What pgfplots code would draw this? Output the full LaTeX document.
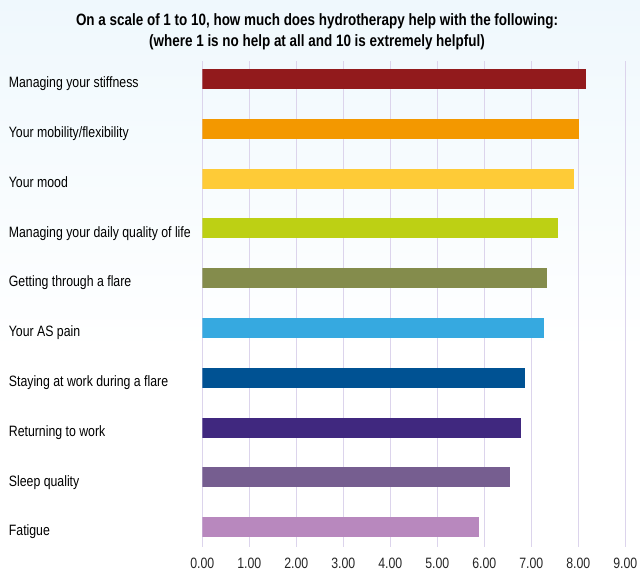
\documentclass[border=0pt]{standalone}
\usepackage{fontspec}
\setmainfont{Liberation Sans}[FakeStretch=0.82]
\usepackage{pgfplots}
\pgfplotsset{compat=1.18}

\definecolor{bgblue}{RGB}{239,248,253}
\definecolor{gridc}{RGB}{220,212,236}
\definecolor{c1}{RGB}{146,26,28}
\definecolor{c2}{RGB}{243,152,0}
\definecolor{c3}{RGB}{254,203,55}
\definecolor{c4}{RGB}{189,208,20}
\definecolor{c5}{RGB}{132,140,76}
\definecolor{c6}{RGB}{54,169,224}
\definecolor{c7}{RGB}{0,82,147}
\definecolor{c8}{RGB}{64,40,127}
\definecolor{c9}{RGB}{118,94,144}
\definecolor{c10}{RGB}{184,136,190}

\begin{document}
\begin{tikzpicture}
  % background: pale blue fading to white
  \fill[white] (0pt,0pt) rectangle (640pt,571pt);
  \shade[top color=bgblue, bottom color=white] (0pt,571pt) rectangle (640pt,220pt);
  \useasboundingbox (0pt,0pt) rectangle (640pt,571pt);

  % title
  \node[font=\fontsize{16.4pt}{19pt}\selectfont\bfseries, inner sep=0pt]
    at (317pt,550pt) {On a scale of 1 to 10, how much does hydrotherapy help with the following:};
  \node[font=\fontsize{16.4pt}{19pt}\selectfont\bfseries, inner sep=0pt]
    at (317pt,529pt) {(where 1 is no help at all and 10 is extremely helpful)};

  \begin{axis}[
    at={(202.3pt,24pt)}, anchor=south west,
    scale only axis, width=423pt, height=486pt,
    xmin=0, xmax=9,
    ymin=-0.362, ymax=9.40,
    y dir=reverse,
    xbar, bar width=20pt, bar shift=0pt,
    axis line style={draw=none},
    major tick length=0pt,
    xmajorgrids,
    major grid style={color=gridc, line width=1.3pt},
    xtick={0,1,2,3,4,5,6,7,8,9},
    xticklabels={0.00,1.00,2.00,3.00,4.00,5.00,6.00,7.00,8.00,9.00},
    xticklabel style={anchor=center, yshift=-16pt, text=black!85,
      font=\fontsize{15pt}{18pt}\selectfont},
    ytick={0,1,2,3,4,5,6,7,8,9},
    yticklabels={Managing your stiffness, Your mobility/flexibility, Your mood,
      Managing your daily quality of life, Getting through a flare, Your AS pain,
      Staying at work during a flare, Returning to work, Sleep quality, Fatigue},
    yticklabel style={anchor=west, inner sep=0pt, xshift=-193.6pt, yshift=-5.3pt,
      text height=11pt, text depth=4pt,
      text=black, font=\fontsize{15pt}{18pt}\selectfont},
    every axis plot/.append style={draw=none},
  ]
    \addplot[fill=c1]  coordinates {(8.16,0)};
    \addplot[fill=c2]  coordinates {(8.01,1)};
    \addplot[fill=c3]  coordinates {(7.91,2)};
    \addplot[fill=c4]  coordinates {(7.57,3)};
    \addplot[fill=c5]  coordinates {(7.34,4)};
    \addplot[fill=c6]  coordinates {(7.27,5)};
    \addplot[fill=c7]  coordinates {(6.87,6)};
    \addplot[fill=c8]  coordinates {(6.78,7)};
    \addplot[fill=c9]  coordinates {(6.55,8)};
    \addplot[fill=c10] coordinates {(5.89,9)};
  \end{axis}
\end{tikzpicture}
\end{document}
